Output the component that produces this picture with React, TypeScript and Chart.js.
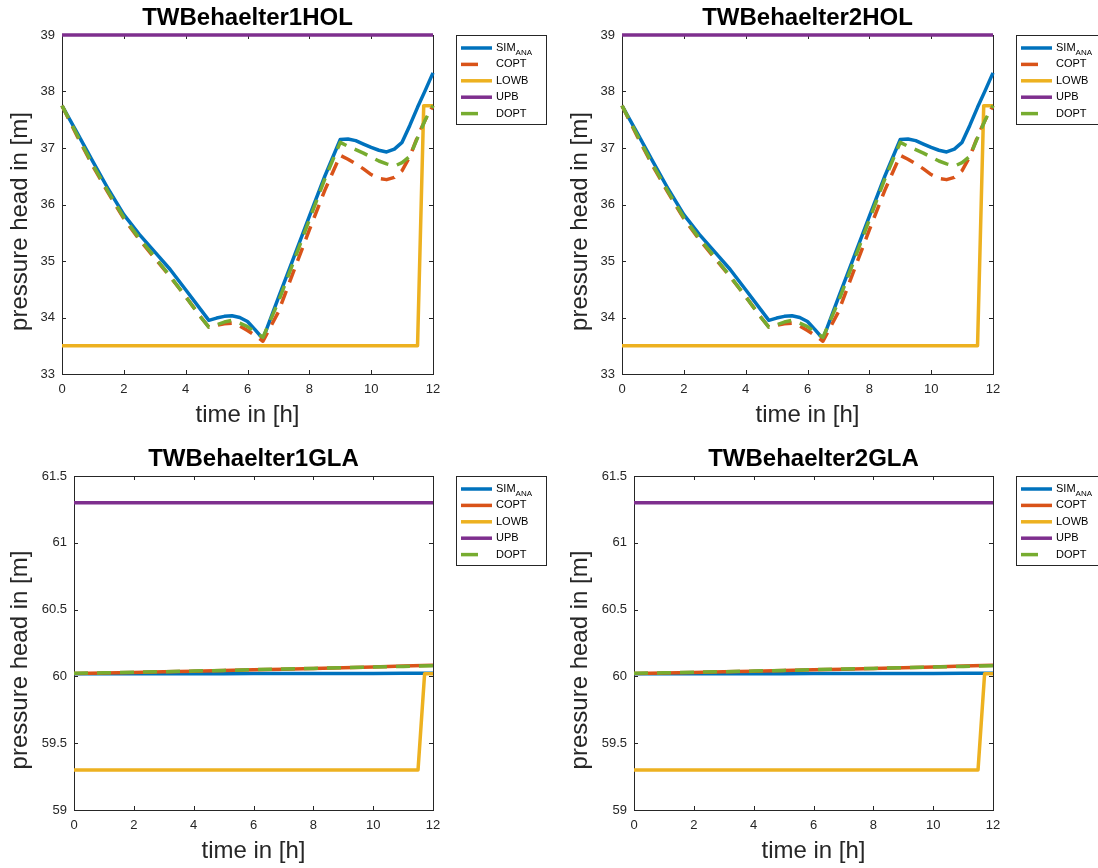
import React, { useEffect, useRef } from "react";
import { Chart, registerables } from "chart.js";
Chart.register(...registerables);

// ---------- data ----------
const tHOL = [0, 0.5, 1, 1.5, 2, 2.5, 3, 3.5, 4, 4.5, 4.75, 5, 5.25, 5.5, 5.75, 6, 6.25, 6.5, 7, 7.5, 8, 8.5, 9, 9.25, 9.5, 9.75, 10, 10.25, 10.5, 10.75, 11, 11.25, 11.5, 11.75, 12];
const simHOL = [37.75, 37.26, 36.76, 36.27, 35.82, 35.47, 35.16, 34.85, 34.49, 34.13, 33.95, 33.99, 34.02, 34.03, 34.0, 33.93, 33.78, 33.62, 34.35, 35.07, 35.79, 36.5, 37.15, 37.16, 37.13, 37.07, 37.01, 36.96, 36.93, 36.98, 37.1, 37.4, 37.72, 38.02, 38.33];
const coptHOL = [37.75, 37.2, 36.68, 36.2, 35.75, 35.38, 35.05, 34.72, 34.37, 34.0, 33.83, 33.86, 33.89, 33.9, 33.85, 33.77, 33.68, 33.58, 34.1, 34.83, 35.55, 36.25, 36.87, 36.8, 36.72, 36.63, 36.53, 36.46, 36.44, 36.48, 36.6, 36.85, 37.2, 37.5, 37.75];
const doptHOL = [37.75, 37.22, 36.7, 36.22, 35.77, 35.4, 35.07, 34.73, 34.37, 34.0, 33.83, 33.87, 33.92, 33.95, 33.9, 33.84, 33.74, 33.65, 34.28, 35.0, 35.73, 36.45, 37.1, 37.03, 36.97, 36.91, 36.84, 36.77, 36.72, 36.68, 36.74, 36.85, 37.18, 37.5, 37.75];
const tLowHOL = [0, 11.5, 11.7, 12];
const lowbHOL = [33.5, 33.5, 37.75, 37.75];
const tUpHOL = [0, 12];
const upbHOL = [39, 39];

const tGLA = [0, 1, 2, 3, 4, 5, 6, 7, 8, 9, 10, 11, 12];
const simGLA = [60.02, 60.02, 60.02, 60.02, 60.02, 60.02, 60.021, 60.021, 60.021, 60.022, 60.022, 60.023, 60.023];
const coptGLA = [60.022, 60.026, 60.03, 60.035, 60.039, 60.044, 60.049, 60.054, 60.06, 60.065, 60.071, 60.077, 60.083];
const doptGLA = [60.024, 60.027, 60.031, 60.035, 60.04, 60.045, 60.05, 60.055, 60.06, 60.065, 60.07, 60.075, 60.08];
const tLowGLA = [0, 11.5, 11.72, 12];
const lowbGLA = [59.3, 59.3, 60.02, 60.02];
const tUpGLA = [0, 12];
const upbGLA = [61.3, 61.3];

const xTicks = [0, 2, 4, 6, 8, 10, 12];
const yTicksHOL = [33, 34, 35, 36, 37, 38, 39];
const yTicksGLA = [59, 59.5, 60, 60.5, 61, 61.5];

const legendNames = ["SIM", "COPT", "LOWB", "UPB", "DOPT"];

// ---------- style ----------
const C = { sim: "#0072BD", copt: "#D95319", lowb: "#EDB120", upb: "#7E2F8E", dopt: "#77AC30" };
const AX = "#262626";
const FONT = "'Liberation Sans', Arial, Helvetica, sans-serif";
const DASH = [14, 9];
const LW = 3.5;

const W = 549;
const H = 434;

type Panel = {
  title: string;
  x: number;
  y: number;
  kind: "HOL" | "GLA";
};

const panels: Panel[] = [
  { title: "TWBehaelter1HOL", x: 0, y: 0, kind: "HOL" },
  { title: "TWBehaelter2HOL", x: 560, y: 0, kind: "HOL" },
  { title: "TWBehaelter1GLA", x: 0, y: 434, kind: "GLA" },
  { title: "TWBehaelter2GLA", x: 560, y: 434, kind: "GLA" },
];

const pts = (t: number[], v: number[]) => t.map((x, i) => ({ x, y: v[i] }));

const framePlugin = {
  id: "matlabFrame",
  beforeDatasetsDraw(chart: any, _a: any, opts: any) {
    const { ctx, chartArea: a, scales } = chart;
    ctx.save();
    ctx.fillStyle = "#fff";
    ctx.strokeStyle = AX;
    ctx.lineWidth = 1;
    ctx.strokeRect(a.left + 0.5, a.top + 0.5, a.right - a.left, a.bottom - a.top);
    const tl = 4;
    ctx.beginPath();
    for (const v of xTicks) {
      const px = Math.round(scales.x.getPixelForValue(v)) + 0.5;
      ctx.moveTo(px, a.bottom);
      ctx.lineTo(px, a.bottom - tl);
      ctx.moveTo(px, a.top);
      ctx.lineTo(px, a.top + tl);
    }
    for (const v of opts.yTicks) {
      const py = Math.round(scales.y.getPixelForValue(v)) + 0.5;
      ctx.moveTo(a.left, py);
      ctx.lineTo(a.left + tl, py);
      ctx.moveTo(a.right, py);
      ctx.lineTo(a.right - tl, py);
    }
    ctx.stroke();
    ctx.restore();
  },
  afterDraw(chart: any, _a: any, opts: any) {
    const { ctx, chartArea: a } = chart;
    ctx.save();
    // title
    ctx.fillStyle = "#000";
    ctx.font = `bold 24px ${FONT}`;
    ctx.textAlign = "center";
    ctx.textBaseline = "alphabetic";
    ctx.fillText(opts.title, (a.left + a.right) / 2, a.top - 10.5);
    // x title
    ctx.fillStyle = AX;
    ctx.font = `24px ${FONT}`;
    ctx.fillText("time in [h]", (a.left + a.right) / 2, a.bottom + 47.5);
    // y title
    ctx.save();
    ctx.translate(27, (a.top + a.bottom) / 2 + 17);
    ctx.rotate(-Math.PI / 2);
    ctx.fillText("pressure head in [m]", 0, 0);
    ctx.restore();

    // legend
    const lx = 456;
    const ly = a.top;
    const lw = 90;
    const lh = 89;
    ctx.fillStyle = "#fff";
    ctx.fillRect(lx, ly, lw, lh);
    ctx.strokeStyle = AX;
    ctx.lineWidth = 1;
    ctx.strokeRect(lx + 0.5, ly + 0.5, lw, lh);
    const colors = [C.sim, C.copt, C.lowb, C.upb, C.dopt];
    const dashed: boolean[] = opts.dashedLegend;
    legendNames.forEach((name, i) => {
      const y = ly + 13 + i * 16.4;
      ctx.strokeStyle = colors[i];
      ctx.lineWidth = LW;
      ctx.lineCap = "butt";
      ctx.beginPath();
      ctx.moveTo(lx + 5, y);
      ctx.lineTo(dashed[i] ? lx + 22 : lx + 36, y);
      ctx.stroke();
      ctx.fillStyle = "#000";
      ctx.font = `11px ${FONT}`;
      ctx.textAlign = "left";
      ctx.textBaseline = "middle";
      ctx.fillText(name, lx + 40, y);
      if (i === 0) {
        const w = ctx.measureText(name).width;
        ctx.font = `8px ${FONT}`;
        ctx.fillText("ANA", lx + 40 + w, y + 5);
      }
    });
    ctx.restore();
  },
};

function PanelChart({ p }: { p: Panel }) {
  const ref = useRef<HTMLCanvasElement | null>(null);
  useEffect(() => {
    const canvas = ref.current;
    if (!canvas) return;
    const hol = p.kind === "HOL";
    const L = hol ? 62 : 74;
    const T = hol ? 35 : 42;
    const R = 433;
    const B = hol ? 374 : 376;
    const yTicks = hol ? yTicksHOL : yTicksGLA;
    const common = { pointRadius: 0, borderWidth: LW, tension: 0, fill: false, clip: false as any, borderJoinStyle: "round" as const };
    const datasets = hol
      ? [
          { label: "SIM", data: pts(tHOL, simHOL), borderColor: C.sim, order: 5, ...common },
          { label: "COPT", data: pts(tHOL, coptHOL), borderColor: C.copt, borderDash: DASH, order: 4, ...common },
          { label: "LOWB", data: pts(tLowHOL, lowbHOL), borderColor: C.lowb, order: 3, ...common },
          { label: "UPB", data: pts(tUpHOL, upbHOL), borderColor: C.upb, order: 2, ...common },
          { label: "DOPT", data: pts(tHOL, doptHOL), borderColor: C.dopt, borderDash: DASH, order: 1, ...common },
        ]
      : [
          { label: "SIM", data: pts(tGLA, simGLA), borderColor: C.sim, order: 5, ...common },
          { label: "COPT", data: pts(tGLA, coptGLA), borderColor: C.copt, order: 4, ...common },
          { label: "LOWB", data: pts(tLowGLA, lowbGLA), borderColor: C.lowb, order: 3, ...common },
          { label: "UPB", data: pts(tUpGLA, upbGLA), borderColor: C.upb, order: 2, ...common },
          { label: "DOPT", data: pts(tGLA, doptGLA), borderColor: C.dopt, borderDash: DASH, order: 1, ...common },
        ];
    const tickFont = { family: FONT, size: 13 };
    const chart = new Chart(canvas, {
      type: "line",
      data: { datasets: datasets as any },
      plugins: [framePlugin as any],
      options: {
        animation: false,
        responsive: false,
        maintainAspectRatio: false,
        events: [],
        layout: { padding: { left: 0, top: T, right: W - R, bottom: 0 } },
        plugins: {
          legend: { display: false },
          tooltip: { enabled: false },
          title: { display: false },
          matlabFrame: {
            title: p.title,
            yTicks,
            dashedLegend: hol ? [false, true, false, false, true] : [false, false, false, false, true],
          },
        } as any,
        scales: {
          x: {
            type: "linear",
            min: 0,
            max: 12,
            grid: { display: false, drawTicks: false },
            border: { display: false },
            ticks: { font: tickFont, color: AX, padding: 8, maxRotation: 0, autoSkip: false, callback: (v: any) => String(v) },
            afterBuildTicks: (s: any) => {
              s.ticks = xTicks.map((v) => ({ value: v }));
            },
            afterFit: (s: any) => {
              s.height = H - B;
            },
          },
          y: {
            type: "linear",
            min: yTicks[0],
            max: yTicks[yTicks.length - 1],
            grid: { display: false, drawTicks: false },
            border: { display: false },
            ticks: { font: tickFont, color: AX, padding: 7, autoSkip: false, callback: (v: any) => String(v) },
            afterBuildTicks: (s: any) => {
              s.ticks = yTicks.map((v) => ({ value: v }));
            },
            afterFit: (s: any) => {
              s.width = L;
            },
          },
        },
      },
    });
    return () => chart.destroy();
  }, [p]);
  return (
    <canvas
      ref={ref}
      width={W}
      height={H}
      style={{ position: "absolute", left: p.x, top: p.y, width: W, height: H, display: "block" }}
    />
  );
}

export default function App() {
  return (
    <div
      style={{
        position: "absolute",
        left: 0,
        top: 0,
        width: 1098,
        height: 868,
        overflow: "hidden",
        background: "#fff",
      }}
    >
      {panels.map((p) => (
        <PanelChart key={p.title} p={p} />
      ))}
    </div>
  );
}
